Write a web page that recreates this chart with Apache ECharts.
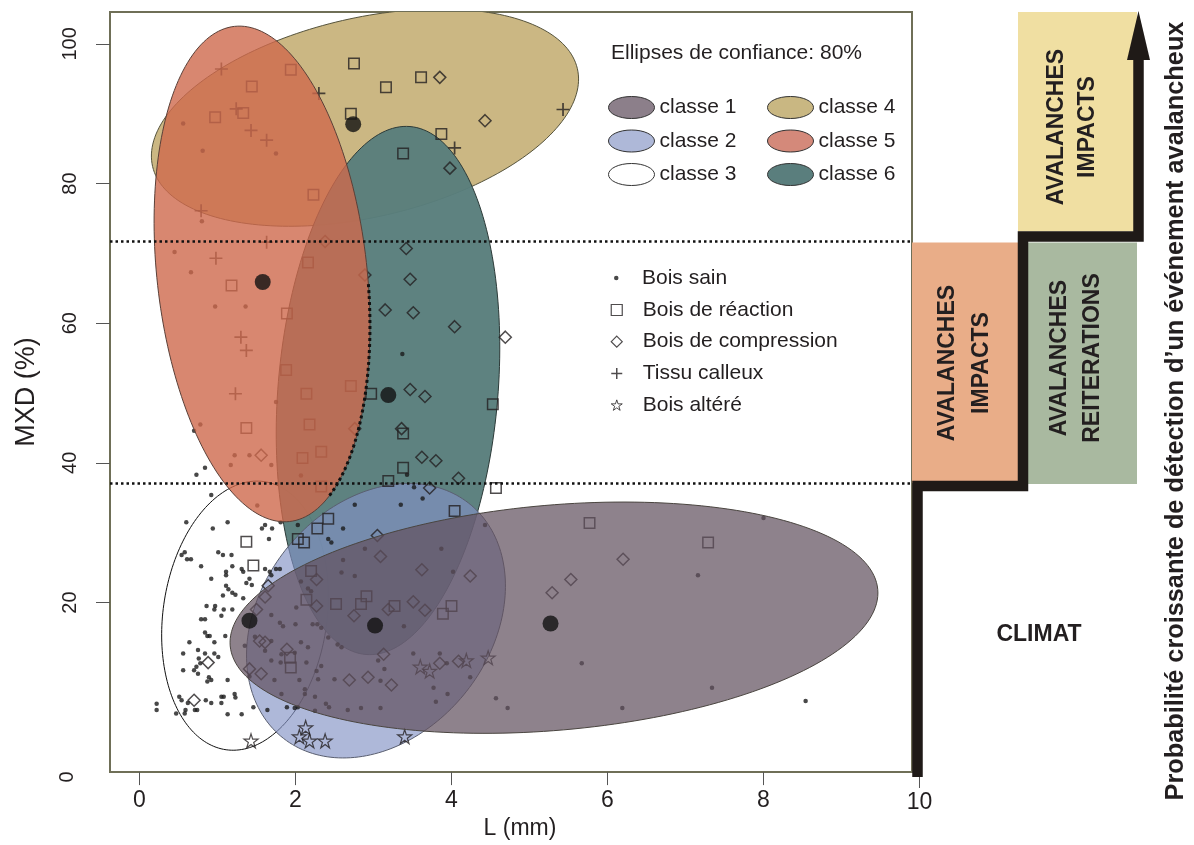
<!DOCTYPE html>
<html><head><meta charset="utf-8">
<script src="https://cdn.jsdelivr.net/npm/echarts@6/dist/echarts.min.js"></script>
<style>html,body{margin:0;padding:0;background:#fff}#c{width:1194px;height:845px}</style>
</head><body><div id="c"></div>
<script>
// ---------- data ----------
const xTickValues = [0, 2, 4, 6, 8];
const xTickLast = 10;
const yTickValues = [20, 40, 60, 80, 100];
const yTickFirst = 0;
const thresholds = [37.1, 71.7];
const classNames = ['classe 1', 'classe 2', 'classe 3', 'classe 4', 'classe 5', 'classe 6'];
// confidence ellipses: [centre L, centre MXD, semi-axis 1 (dL, dMXD), semi-axis 2 (dL, dMXD)]
const ellipse1 = [5.314, 17.83, 4.151, 4.04, 0.126, -16.06];
const ellipse2 = [3.032, 17.40, 1.185, 16.86, 1.162, -10.10];
const ellipse3 = [1.353, 18.12, 0.242, 19.20, 1.041, -1.63];
const ellipse4 = [2.891, 89.44, 2.723, 7.00, 0.288, -13.90];
const ellipse5 = [1.571, 67.05, -0.353, 35.45, 1.338, 1.648];
const ellipse6 = [3.186, 50.36, 0.282, 37.80, 1.405, -1.30];
const centres = [[5.27,17.0],[3.02,16.7],[1.41,17.4],[2.74,88.5],[1.58,65.9],[3.19,49.7]];

const boisSain = [
[0.56,88.6],[0.81,84.7],[1.75,84.3],[0.80,74.6],[0.45,70.2],[0.66,67.3],[0.97,62.4],[1.36,62.4],[3.37,55.6],[1.75,48.7],[0.78,45.5],[0.70,44.6],[1.22,41.1],[1.41,41.1],[1.17,39.7],[1.69,39.7],[0.84,39.3],[0.73,38.3],[2.07,38.2],[0.92,35.4],[1.51,33.9],[2.76,34.0],[3.35,34.0],[3.43,38.3],[3.52,36.5],[3.63,34.9],[4.43,31.1],[8.00,32.1],[3.87,27.7],[4.02,24.4],[7.16,23.9],[3.39,16.6],[3.51,12.7],[3.85,12.7],[3.94,11.3],[5.67,11.3],[4.24,9.3],[3.77,7.8],[7.34,7.8],[3.95,6.9],[3.80,5.8],[4.57,6.3],[4.72,4.9],[6.19,4.9],[8.54,5.9],
[0.60,31.5],[1.13,31.5],[0.94,30.6],[1.57,30.6],[1.61,31.1],[1.70,30.6],[1.81,31.5],[2.61,30.6],[2.03,31.1],[1.66,29.1],[2.42,29.1],[2.46,28.6],[0.58,27.2],[0.54,26.8],[0.61,26.2],[0.66,26.2],[1.01,27.2],[1.07,26.8],[1.18,26.8],[0.79,25.2],[1.19,25.2],[1.61,24.8],[1.67,24.4],[1.69,23.9],[1.75,24.8],[1.80,24.8],[1.31,24.8],[1.33,24.4],[1.11,24.4],[1.11,23.9],[0.92,23.4],[1.41,23.4],[1.37,22.8],[1.44,22.5],[1.11,22.4],[1.14,21.9],[1.19,21.4],[1.23,21.1],[1.07,21.0],[1.33,20.6],[0.86,19.5],[0.97,19.5],[0.96,19.0],[1.08,19.0],[1.19,19.0],[0.79,17.6],[0.84,17.6],[1.05,18.1],[0.84,15.7],[0.87,15.2],[0.90,15.2],[1.10,15.2],[0.96,14.3],[0.64,14.3],[0.75,13.2],[0.56,12.7],[0.84,12.7],[0.96,12.7],[0.76,12.0],[1.01,12.2],[0.78,11.3],[0.73,10.8],[0.56,10.3],[0.70,10.3],[0.75,9.8],[0.89,9.3],[0.92,8.9],[0.87,8.7],[1.13,8.9],[1.41,9.4],[0.51,6.5],[0.54,6.0],[0.62,5.6],[0.59,4.6],[0.85,6.0],[0.92,5.6],[1.05,6.5],[1.08,6.5],[1.22,6.9],[1.23,6.4],[1.05,5.6],[0.71,4.6],[0.74,4.6],[0.47,4.1],[0.58,4.1],[0.22,5.5],[0.22,4.6],[1.13,4.0],[1.31,4.0],[1.46,5.0],[1.64,4.6],[1.89,5.0],[2.03,5.0],
[2.07,23.0],[2.16,22.0],[2.20,21.6],[2.89,27.7],[2.61,26.1],[2.76,23.8],[2.59,24.3],[1.69,18.2],[1.80,17.1],[1.84,16.6],[2.01,19.3],[2.22,16.9],[2.28,16.9],[2.33,16.4],[2.00,16.9],[1.69,14.5],[1.48,15.1],[1.35,13.8],[2.07,14.3],[2.16,13.6],[2.42,15.0],[2.59,13.6],[2.54,14.0],[1.61,13.1],[1.69,11.7],[1.82,12.6],[1.99,12.8],[1.81,11.4],[2.14,11.4],[2.27,10.2],[2.33,10.9],[3.06,11.7],[3.14,10.5],[1.73,8.9],[2.05,8.9],[2.29,9.0],[2.50,9.0],[3.09,8.8],[2.12,7.6],[2.12,6.9],[1.82,6.9],[2.25,6.5],[2.39,5.5],[2.43,5.0],[2.67,4.6],[2.84,4.9],[3.09,4.9],[2.25,4.5],[1.99,4.9]
];
const boisReaction = [
[1.94,96.3],[2.75,97.2],[3.16,93.8],[1.44,93.9],[1.33,90.1],[0.97,89.5],[2.71,90.0],[3.38,84.3],[2.23,78.4],[2.16,68.7],[3.61,95.2],[3.87,87.1],[1.18,65.4],[1.89,61.4],[1.88,53.3],[2.71,51.0],[2.14,49.9],[2.97,49.9],[1.37,45.0],[2.18,45.5],[3.38,44.2],[2.09,40.7],[2.33,41.6],[3.38,39.3],[2.33,36.6],[3.19,37.4],[4.53,48.4],[4.57,36.4],[4.04,33.1],[5.77,31.4],[7.29,28.6],[4.00,19.5],[3.89,18.4],[2.42,32.0],[2.28,30.6],[1.37,28.7],[2.03,29.1],[2.11,28.6],[1.46,25.3],[2.20,24.5],[2.14,20.4],[2.52,19.8],[2.84,19.8],[2.91,20.9],[3.27,19.5],[1.93,12.1],[1.94,10.7]
];
const boisCompression = [
[2.38,71.7],[3.42,70.7],[3.85,95.2],[4.43,89.0],[3.98,82.2],[2.89,66.9],[3.47,66.3],[3.15,61.9],[3.51,61.5],[4.04,59.5],[4.69,58.0],[3.47,50.5],[3.66,49.5],[2.76,44.9],[3.36,44.9],[1.56,41.1],[3.62,40.8],[3.80,40.3],[4.09,37.8],[3.72,36.4],[6.20,26.2],[5.53,23.3],[4.24,23.8],[3.62,24.7],[5.29,21.4],[3.51,20.1],[3.66,18.9],[3.85,11.3],[4.09,11.6],[0.88,11.4],[0.70,6.0],[2.27,23.3],[1.65,22.4],[1.61,20.8],[1.50,19.0],[3.05,29.6],[3.09,26.6],[2.27,19.5],[2.75,18.1],[3.19,19.0],[1.54,14.5],[1.61,14.3],[1.89,13.3],[3.13,12.6],[2.69,8.9],[2.93,9.3],[3.23,8.2],[1.56,9.8],[1.41,10.5]
];
const tissuCalleux = [[1.05,96.4],[2.30,92.9],[1.24,90.7],[1.43,87.6],[1.63,86.2],[0.79,76.1],[1.63,71.6],[0.98,69.3],[5.43,90.6],[4.04,85.1],[1.30,58.0],[1.37,56.1],[1.23,49.9]];
const boisAltere = [[1.43,0.2],[2.13,2.1],[2.05,0.8],[2.18,0.2],[2.38,0.2],[3.40,0.8],[3.60,10.8],[3.72,10.2],[4.19,11.7],[4.47,12.1]];

// ---------- styling ----------
const FONT = 'Liberation Sans, Arial, sans-serif';
const NARROW = 'Liberation Sans Narrow, Arial Narrow, Liberation Sans, sans-serif';
const INK = '#231f20';
const PLUS = 'path://M0,6L12,6M6,0L6,12';
const STAR = 'path://M50,2L61.2,36.6L97.6,36.6L68.2,58L79.4,92.6L50,71.2L20.6,92.6L31.8,58L2.4,36.6L38.8,36.6Z';
const ELL = 'path://M0,11A23,11,0,1,1,46,11A23,11,0,1,1,0,11Z';

const legendColors = ['#8C7F8A', '#AEB8D8', '#FFFFFF', '#C9B782', '#D4897A', '#5A7E7D'];
const ellFill = ['rgba(98,82,96,0.72)', 'rgba(130,146,196,0.65)', '#ffffff', '#CBB783', 'rgba(206,105,76,0.8)', 'rgba(89,126,124,0.97)'];
const ellStroke = ['#4a4540', '#5a5f70', '#111111', '#55533c', '#5a4038', '#2c3a38'];
const ellZ = [4, 2, 2, 2, 4, 2];
const ellData = [ellipse1, ellipse2, ellipse3, ellipse4, ellipse5, ellipse6];
// part of the classe 5 outline drawn dotted (parameter angle range, degrees)
const dottedArc5 = [95, 157];

function ellipseSeries(k) {
  return {
    type: 'custom', name: classNames[k], z: ellZ[k], silent: true,
    coordinateSystem: 'cartesian2d',
    data: [ellData[k]],
    encode: { x: 0, y: 1 },
    itemStyle: { color: legendColors[k], borderColor: ellStroke[k] },
    renderItem: function (p, api) {
      const cx = api.value(0), cy = api.value(1), ax = api.value(2), ay = api.value(3), bx = api.value(4), by = api.value(5);
      const at = t => api.coord([cx + ax * Math.cos(t) + bx * Math.sin(t), cy + ay * Math.cos(t) + by * Math.sin(t)]);
      const pts = [];
      const N = 200;
      for (let i = 0; i < N; i++) pts.push(at(i / N * 2 * Math.PI));
      const cs = p.coordSys;
      const children = [{
        type: 'polygon', shape: { points: pts },
        style: { fill: ellFill[k], stroke: ellStroke[k], lineWidth: 1 }
      }];
      if (k === 4) {
        const arc = [];
        for (let d = dottedArc5[0]; d <= dottedArc5[1]; d += 1) arc.push(at(d * Math.PI / 180));
        children.push({ type: 'polyline', shape: { points: arc }, style: { stroke: '#111', lineWidth: 3, lineDash: [3, 3], fill: null } });
      }
      return {
        type: 'group', children: children,
        clipPath: { type: 'rect', shape: { x: cs.x, y: cs.y, width: cs.width, height: cs.height } }
      };
    }
  };
}

const hollow = { color: 'rgba(0,0,0,0)', borderColor: INK, borderWidth: 1.5 };
const legendHollow = { color: 'rgba(0,0,0,0)', borderColor: INK, borderWidth: 1.2 };

const chart = echarts.init(document.getElementById('c'), null, { renderer: 'canvas' });
const option = {
  animation: false,
  backgroundColor: '#fff',
  title: {
    text: 'Ellipses de confiance: 80%', left: 611, top: 43, padding: 0,
    textStyle: { fontFamily: FONT, fontSize: 21, fontWeight: 'normal', color: INK }
  },
  grid: { left: 110, top: 12, right: 282, bottom: 70, show: true, borderColor: '#6f6f57', borderWidth: 2, backgroundColor: 'rgba(0,0,0,0)' },
  xAxis: {
    type: 'value', min: -0.378, max: 9.904,
    name: 'L (mm)', nameLocation: 'middle', nameGap: 44,
    nameTextStyle: { fontFamily: NARROW, fontSize: 23, color: INK, padding: [0, 0, 0, 18] },
    axisLine: { show: false, onZero: false }, splitLine: { show: false },
    axisTick: { show: true, inside: false, length: 13, customValues: xTickValues, lineStyle: { color: '#555', width: 1 } },
    axisLabel: { customValues: xTickValues, fontFamily: NARROW, fontSize: 23, color: INK, margin: 17 }
  },
  yAxis: {
    type: 'value', min: -4.28, max: 104.56,
    name: 'MXD (%)', nameLocation: 'middle', nameGap: 70, nameRotate: 90,
    nameTextStyle: { fontFamily: FONT, fontSize: 27, color: INK },
    axisLine: { show: false, onZero: false }, splitLine: { show: false },
    axisTick: { show: true, inside: false, length: 14, customValues: yTickValues, lineStyle: { color: '#555', width: 1 } },
    axisLabel: { customValues: yTickValues, rotate: 90, fontFamily: FONT, fontSize: 20, color: INK, margin: 30 }
  },
  legend: [
    { orient: 'vertical', left: 608, top: 96, padding: 0, itemWidth: 46, itemHeight: 22, itemGap: 10.5, selectedMode: false,
      textStyle: { fontFamily: FONT, fontSize: 21, color: INK },
      data: [0, 1, 2].map(k => ({ name: classNames[k], icon: ELL, itemStyle: { color: legendColors[k], borderColor: '#333', borderWidth: 1 } })) },
    { orient: 'vertical', left: 767, top: 96, padding: 0, itemWidth: 46, itemHeight: 22, itemGap: 10.5, selectedMode: false,
      textStyle: { fontFamily: FONT, fontSize: 21, color: INK },
      data: [3, 4, 5].map(k => ({ name: classNames[k], icon: ELL, itemStyle: { color: legendColors[k], borderColor: '#333', borderWidth: 1 } })) },
    { orient: 'vertical', left: 614, top: 267.5, padding: 0, itemWidth: 4.5, itemHeight: 4.5, selectedMode: false,
      textStyle: { fontFamily: FONT, fontSize: 21, color: INK, padding: [0, 0, 0, 18.5] },
      data: [{ name: 'Bois sain', icon: 'circle' }] },
    { orient: 'vertical', left: 610.5, top: 299.5, padding: 0, itemWidth: 11, itemHeight: 11, itemGap: 10.7, selectedMode: false,
      textStyle: { fontFamily: FONT, fontSize: 21, color: INK, padding: [0, 0, 0, 15.5] },
      data: [{ name: 'Bois de réaction', icon: 'rect', itemStyle: legendHollow },
             { name: 'Bois de compression', icon: 'diamond', itemStyle: legendHollow },
             { name: 'Tissu calleux', icon: PLUS, itemStyle: { color: 'rgba(0,0,0,0)', borderColor: INK, borderWidth: 1.5 } },
             { name: 'Bois altéré', icon: STAR, itemStyle: { color: 'rgba(0,0,0,0)', borderColor: INK, borderWidth: 1 } }] }
  ],
  series: [
    ellipseSeries(2), ellipseSeries(3), ellipseSeries(5), ellipseSeries(1),
    { type: 'scatter', name: 'Bois sain', z: 3, silent: true, data: boisSain, symbol: 'circle', symbolSize: 4.5, itemStyle: { color: '#1a1a1a' } },
    { type: 'scatter', name: 'Bois de réaction', z: 3, silent: true, data: boisReaction, symbol: 'rect', symbolSize: 10.5, itemStyle: hollow },
    { type: 'scatter', name: 'Bois de compression', z: 3, silent: true, data: boisCompression, symbol: 'diamond', symbolSize: 12, itemStyle: hollow },
    { type: 'scatter', name: 'Tissu calleux', z: 3, silent: true, data: tissuCalleux, symbol: PLUS, symbolSize: 13, itemStyle: { color: 'rgba(0,0,0,0)', borderColor: INK, borderWidth: 1.7 } },
    { type: 'scatter', name: 'Bois altéré', z: 3, silent: true, data: boisAltere, symbol: STAR, symbolSize: 14, itemStyle: { color: 'rgba(0,0,0,0)', borderColor: INK, borderWidth: 1.2 } },
    ellipseSeries(4), ellipseSeries(0),
    { type: 'scatter', name: 'centres', z: 5, silent: true, data: centres, symbol: 'circle', symbolSize: 16, itemStyle: { color: '#111' },
      markLine: { silent: true, symbol: ['none', 'none'], label: { show: false },
        lineStyle: { color: '#111', type: [2.5, 3], width: 2.5 },
        data: thresholds.map(v => ({ yAxis: v })) } }
  ]
};
chart.setOption(option);

// ---------- right-hand scheme, anchored on the threshold values ----------
const yLow = chart.convertToPixel({ gridIndex: 0 }, [0, thresholds[0]])[1];
const yHigh = chart.convertToPixel({ gridIndex: 0 }, [0, thresholds[1]])[1];
const x10 = chart.convertToPixel({ gridIndex: 0 }, [xTickLast, 0])[0];
const yZero = 777;
const DARK = '#1f1a17';
chart.setOption({
  graphic: [
    { type: 'rect', z: 20, shape: { x: 912, y: yHigh + 1, width: 106, height: yLow - yHigh - 1 }, style: { fill: '#E9AD88' } },
    { type: 'rect', z: 20, shape: { x: 1028, y: yHigh + 1, width: 109, height: yLow - yHigh }, style: { fill: '#A9B9A0' } },
    { type: 'rect', z: 20, shape: { x: 1018, y: 12, width: 119, height: yHigh - 22 }, style: { fill: '#F0DFA2' } },
    { type: 'polyline', z: 21, shape: { points: [[917.5, 777], [917.5, yLow + 3], [1023, yLow + 3], [1023, yHigh - 5], [1138.5, yHigh - 5], [1138.5, 55]] },
      style: { stroke: DARK, lineWidth: 10.5, lineJoin: 'miter', fill: null } },
    { type: 'polygon', z: 21, shape: { points: [[1127, 60], [1138.5, 11], [1150, 60]] }, style: { fill: DARK } },
    { type: 'text', z: 22, x: 965, y: 363, rotation: Math.PI / 2,
      style: { text: 'AVALANCHES\nIMPACTS', font: 'bold 23px ' + FONT, fill: INK, align: 'center', verticalAlign: 'middle', lineHeight: 34 } },
    { type: 'text', z: 22, x: 1076.5, y: 358, rotation: Math.PI / 2,
      style: { text: 'AVALANCHES\nREITERATIONS', font: 'bold 23px ' + FONT, fill: INK, align: 'center', verticalAlign: 'middle', lineHeight: 33 } },
    { type: 'text', z: 22, x: 1072.5, y: 127, rotation: Math.PI / 2,
      style: { text: 'AVALANCHES\nIMPACTS', font: 'bold 23px ' + FONT, fill: INK, align: 'center', verticalAlign: 'middle', lineHeight: 31 } },
    { type: 'text', z: 22, x: 1039, y: 635,
      style: { text: 'CLIMAT', font: 'bold 23px ' + FONT, fill: INK, align: 'center', verticalAlign: 'middle' } },
    { type: 'text', z: 22, x: 1176, y: 411, rotation: Math.PI / 2,
      style: { text: 'Probabilité croissante de détection d’un événement avalancheux', font: 'bold 25.3px ' + FONT, fill: INK, align: 'center', verticalAlign: 'middle' } },
    { type: 'line', z: 19, shape: { x1: x10, y1: 775, x2: x10, y2: 788 }, style: { stroke: '#555', lineWidth: 1 } },
    { type: 'text', z: 22, x: x10, y: 803,
      style: { text: String(xTickLast), font: '23px ' + NARROW, fill: INK, align: 'center', verticalAlign: 'middle' } },
    { type: 'text', z: 22, x: 67, y: yZero, rotation: Math.PI / 2,
      style: { text: String(yTickFirst), font: '20px ' + FONT, fill: INK, align: 'center', verticalAlign: 'middle' } }
  ]
});
</script>
</body></html>
